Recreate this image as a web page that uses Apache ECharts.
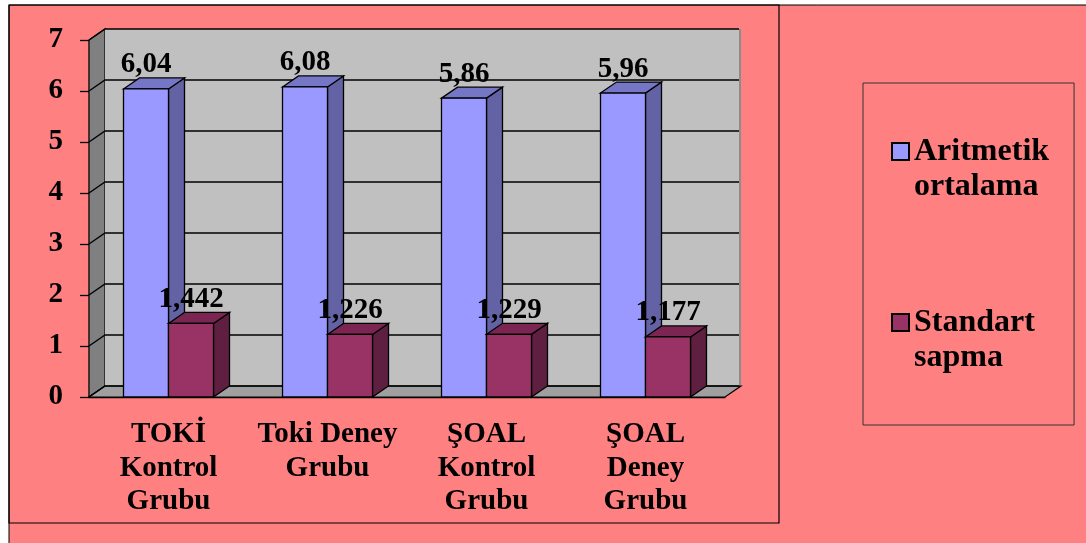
<!DOCTYPE html>
<html>
<head>
<meta charset="utf-8">
<script src="https://cdn.jsdelivr.net/npm/echarts@6/dist/echarts.min.js"></script>
<style>
html,body{margin:0;padding:0;background:#fff;}
#chart{width:1086px;height:543px;}
</style>
</head>
<body>
<div id="chart"></div>
<script>
// ---- data ----
const categories = ['TOKİ\nKontrol\nGrubu', 'Toki Deney\nGrubu', 'ŞOAL\nKontrol\nGrubu', 'ŞOAL\nDeney\nGrubu'];
const seriesNames = ['Aritmetik\nortalama', 'Standart\nsapma'];
const meanValues = [6.04, 6.08, 5.86, 5.96];
const sdValues = [1.442, 1.226, 1.229, 1.177];
const meanLabels = ['6,04', '6,08', '5,86', '5,96'];
const sdLabels = ['1,442', '1,226', '1,229', '1,177'];
const yTicks = [0, 1, 2, 3, 4, 5, 6, 7];

// ---- style ----
const FONT = '"Liberation Serif", "Times New Roman", serif';
const DX = 16, DY = -11;      // 3D depth offset
const BAR_W = 45;             // front face width
const PINK = '#FF8080';

const chart = echarts.init(document.getElementById('chart'));

function wallRender(params, api) {
  const cs = params.coordSys;
  const x0 = cs.x, x1 = cs.x + cs.width, yb = cs.y + cs.height, yt = cs.y;
  const children = [];
  children.push({type: 'polygon', shape: {points: [[x0, yb], [x0, yt], [x0 + DX, yt + DY], [x0 + DX, yb + DY]]},
    style: {fill: '#808080', stroke: '#000', lineWidth: 1.2}});
  children.push({type: 'rect', shape: {x: x0 + DX, y: yt + DY, width: x1 - x0, height: yb - yt},
    style: {fill: '#C0C0C0', stroke: null}});
  children.push({type: 'line', shape: {x1: x1 + DX - 1, y1: yt + DY, x2: x1 + DX - 1, y2: yb + DY},
    style: {stroke: '#8c8c8c', lineWidth: 2}});
  children.push({type: 'polygon', shape: {points: [[x0, yb], [x1, yb], [x1 + DX, yb + DY], [x0 + DX, yb + DY]]},
    style: {fill: '#A0A0A0', stroke: '#000', lineWidth: 1.2}});
  yTicks.forEach(function (v) {
    const y = api.coord([0, v])[1];
    children.push({type: 'polyline', shape: {points: [[x0, y], [x0 + DX, y + DY], [x1 + DX - 2, y + DY]]},
      style: {stroke: '#000', lineWidth: 1.4, fill: null}});
  });
  return {type: 'group', children: children};
}

function barRender(side, labels) {
  return function (params, api) {
    const idx = api.value(0);
    const val = api.value(1);
    const top = api.coord([idx, val]);
    const base = api.coord([idx, 0]);
    const cx = top[0];
    const xl = side === 0 ? cx - BAR_W : cx;
    const xr = xl + BAR_W;
    const yt = top[1], yb = base[1];
    const c = api.visual('color');
    const sideCol = side === 0 ? '#6262A4' : '#5E1F40';
    const topCol = side === 0 ? '#7676C6' : '#7A2552';
    return {type: 'group', children: [
      {type: 'polygon', shape: {points: [[xr, yt], [xr + DX, yt + DY], [xr + DX, yb + DY], [xr, yb]]},
        style: {fill: sideCol, stroke: '#000', lineWidth: 1.3}},
      {type: 'polygon', shape: {points: [[xl, yt], [xl + DX, yt + DY], [xr + DX, yt + DY], [xr, yt]]},
        style: {fill: topCol, stroke: '#000', lineWidth: 1.3}},
      {type: 'rect', shape: {x: xl, y: yt, width: BAR_W, height: yb - yt},
        style: {fill: c, stroke: '#000', lineWidth: 1.3}},
      {type: 'text', z2: 100, style: {text: labels[params.dataIndex], x: (xl + xr) / 2, y: yt - 24,
        align: 'center', verticalAlign: 'middle', fill: '#000',
        fontFamily: FONT, fontWeight: 'bold', fontSize: 29}}
    ]};
  };
}

const option = {
  animation: false,
  backgroundColor: '#fff',
  graphic: [
    {type: 'rect', z: -10, shape: {x: 9, y: 5, width: 1100, height: 560}, style: {fill: PINK, stroke: '#000', lineWidth: 1}},
    {type: 'rect', z: -9, shape: {x: 9, y: 5, width: 770, height: 518}, style: {fill: null, stroke: '#000', lineWidth: 1.2}}
  ],
  grid: {left: 89, top: 40, right: 361, bottom: 146},
  xAxis: {
    type: 'category', data: categories, boundaryGap: true,
    axisLine: {lineStyle: {color: '#000', width: 1.3}},
    axisTick: {length: 8, lineStyle: {color: '#000', width: 1.3}},
    axisLabel: {color: '#000', fontFamily: FONT, fontWeight: 'bold', fontSize: 29, lineHeight: 33.5, margin: 21, interval: 0}
  },
  yAxis: {
    type: 'value', min: 0, max: 7, interval: 1,
    splitLine: {show: false},
    axisLine: {show: true, lineStyle: {color: '#000', width: 1.3}},
    axisTick: {show: true, length: 9, lineStyle: {color: '#000', width: 1.3}},
    axisLabel: {color: '#000', fontFamily: FONT, fontWeight: 'bold', fontSize: 29, margin: 26}
  },
  legend: {
    data: seriesNames, orient: 'vertical', left: 863, top: 83,
    padding: [16, 25, 50, 28], itemGap: 66, itemWidth: 17, itemHeight: 17,
    borderColor: '#333', borderWidth: 1, icon: 'rect',
    itemStyle: {borderColor: '#000', borderWidth: 2},
    formatter: function (name) { return ' \n' + name; },
    textStyle: {color: '#000', fontFamily: FONT, fontWeight: 'bold', fontSize: 32, lineHeight: 35},
    selectedMode: false
  },
  series: [
    {type: 'custom', name: 'walls', z: 1, silent: true, clip: false, data: [[0, 0]], renderItem: wallRender},
    {type: 'custom', name: seriesNames[0], z: 2, clip: false, itemStyle: {color: '#9999FF'},
      data: meanValues.map(function (v, i) { return [i, v]; }), renderItem: barRender(0, meanLabels)},
    {type: 'custom', name: seriesNames[1], z: 3, clip: false, itemStyle: {color: '#993366'},
      data: sdValues.map(function (v, i) { return [i, v]; }), renderItem: barRender(1, sdLabels)}
  ]
};
chart.setOption(option);
</script>
</body>
</html>
